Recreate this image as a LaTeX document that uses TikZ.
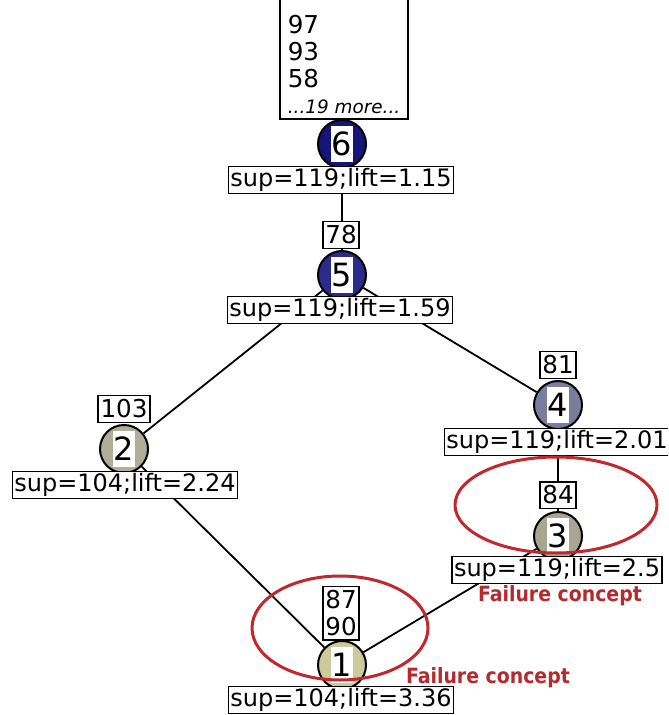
\documentclass[tikz,border=0pt]{standalone}
\usepackage{fontspec}
\setmainfont{DejaVu Sans}
\newfontfamily\notefont{DejaVu Sans Condensed}
\usepackage{xcolor}
\usetikzlibrary{shapes,backgrounds}

\definecolor{fill6}{HTML}{16167A}
\definecolor{fill5}{HTML}{2B2B8C}
\definecolor{fill4}{HTML}{7B7D9E}
\definecolor{fill3}{HTML}{A8A592}
\definecolor{fill2}{HTML}{B0AD99}
\definecolor{fill1}{HTML}{CCC99A}
\definecolor{failred}{HTML}{C1272D}
\definecolor{notered}{HTML}{B52A2E}

\tikzset{
  concept/.style={circle, draw, line width=1pt, minimum size=24pt, inner sep=0pt, fill=#1,
    font=\fontsize{16}{16}\selectfont,
    path picture={\fill[white] ([shift={(-5.6pt,-8.9pt)}]path picture bounding box.center) rectangle ([shift={(5.6pt,8.9pt)}]path picture bounding box.center);}},
  info/.style={draw, fill=white, line width=0.8pt, inner xsep=1pt, inner ysep=1pt, font=\fontsize{12}{13}\selectfont},
  ext/.style={draw, fill=white, line width=0.8pt, inner xsep=1.3pt, inner ysep=2pt, align=center, font=\fontsize{12.3}{13.4}\selectfont},
  edge/.style={line width=0.9pt},
  failure/.style={ellipse, draw=failred, line width=1.5pt, inner sep=0pt},
  note/.style={text=notered, font=\notefont\fontsize{10.5}{11}\selectfont\bfseries}
}

\begin{document}
\begin{tikzpicture}[x=0.5pt,y=-0.5pt]
\useasboundingbox (0,0) rectangle (668,715);
\clip (0,0) rectangle (668,715);

\node[ext, draw=none, anchor=south west, align=left, minimum width=61pt, inner xsep=3.5pt] (n6e) at (280,119) {97\\93\\58\\{\itshape\fontsize{9.2}{10}\selectfont ...19 more...}};
\draw[edge] ([yshift=20pt]n6e.north west) |- (n6e.south east) -- ([yshift=20pt]n6e.north east);
\node[concept=fill6] (n6) at (342,144) {6};
\node[info] (n6s) at (341,180) {sup=119;lift=1.15};

\node[ext] (n5e) at (341,235) {78};
\node[concept=fill5] (n5) at (342,275) {5};
\node[info] (n5s) at (340,310) {sup=119;lift=1.59};

\node[ext] (n4e) at (558,365) {81};
\node[concept=fill4] (n4) at (558,405) {4};
\node[info] (n4s) at (557,442) {sup=119;lift=2.01};

\node[ext] (n2e) at (124,409) {103};
\node[concept=fill2] (n2) at (124,449) {2};
\node[info] (n2s) at (125,485) {sup=104;lift=2.24};

\node[ext] (n3e) at (558,495) {84};
\node[concept=fill3] (n3) at (558,536) {3};
\node[info] (n3s) at (557,570) {sup=119;lift=2.5};

\node[ext] (n1e) at (341,613) {87\\90};
\node[concept=fill1] (n1) at (342,665) {1};
\node[info] (n1s) at (341,700) {sup=104;lift=3.36};

\begin{scope}[on background layer]
\draw[edge] (n6) -- (n5);
\draw[edge] (n5) -- (n2);
\draw[edge] (n5) -- (n4);
\draw[edge] (n4) -- (n3);
\draw[edge] (n2) -- (n1);
\draw[edge] (n3) -- (n1);
\end{scope}

\node[failure, minimum width=101pt, minimum height=48pt] (f3) at (556,505) {};
\node[failure, minimum width=88pt, minimum height=52pt] (f1) at (340,628) {};
\node[note] (f3t) at (560,596) {Failure concept};
\node[note] (f1t) at (488,678) {Failure concept};

\end{tikzpicture}
\end{document}
